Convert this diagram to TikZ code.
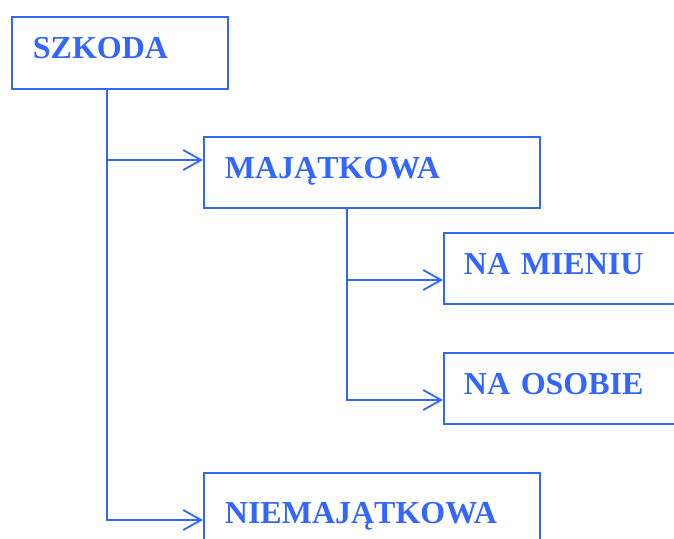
\documentclass[tikz,border=0pt]{standalone}
\usepackage{fontspec}
\setmainfont{Liberation Serif}
\usetikzlibrary{arrows.meta}
\definecolor{ablue}{RGB}{51,102,255}
\tikzset{
  box/.style={draw=ablue, line width=1.8pt, anchor=north west, inner ysep=0pt,
    inner xsep=21pt, align=left, text=ablue,
    font=\fontsize{32}{36}\selectfont\bfseries},
  conn/.style={draw=ablue, line width=1.8pt},
  arr/.style={conn, -{Straight Barb[length=18pt,width=20pt]}}
}
\begin{document}
\begin{tikzpicture}[x=1pt,y=-1pt]
\clip (0,0) rectangle (674,538);
\node[box, text width=174pt, text height=42pt, text depth=30pt] (szk) at (11,16) {SZKODA};
\node[box, text width=294pt, text height=41.5pt, text depth=29.5pt] (maj) at (203,136) {MAJĄTKOWA};
\node[box, inner xsep=20pt, text width=220pt, text height=41.5pt, text depth=29.5pt] (mien) at (443,232) {NA MIENIU};
\node[box, inner xsep=20pt, text width=220pt, text height=41.5pt, text depth=29.5pt] (osob) at (443,352) {NA OSOBIE};
\node[box, text width=294pt, text height=50.5pt, text depth=25pt] (niem) at (203,472) {NIEMAJĄTKOWA};
\coordinate (t1) at (107,0);
\coordinate (t2) at (347,0);
\coordinate (majin) at ([shift={(0,24)}]maj.north west);
\coordinate (niemin) at ([shift={(0,48)}]niem.north west);
\coordinate (mienin) at ([shift={(0,48)}]mien.north west);
\coordinate (osobin) at ([shift={(0,48)}]osob.north west);
\draw[arr] (szk.south -| t1) |- (niemin);
\draw[arr] (majin -| t1) -- (majin);
\draw[arr] (maj.south -| t2) |- (osobin);
\draw[arr] (mienin -| t2) -- (mienin);
\end{tikzpicture}
\end{document}
